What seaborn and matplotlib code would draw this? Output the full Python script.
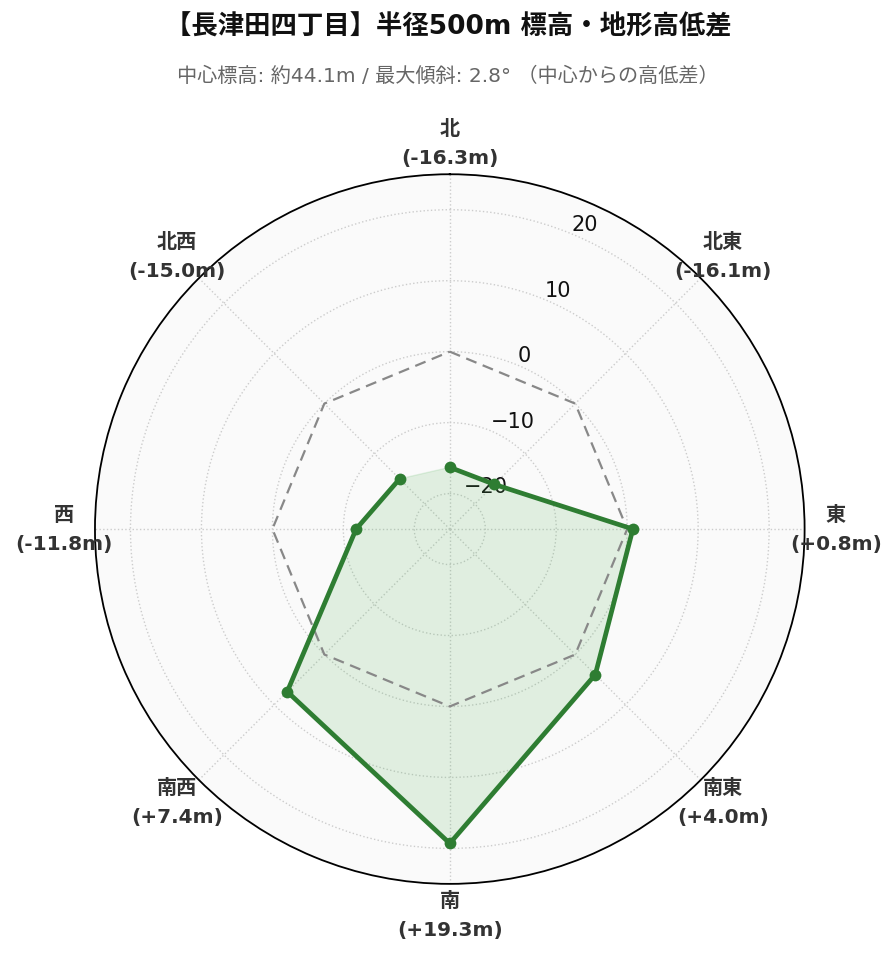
import numpy as np
import pandas as pd
import matplotlib
matplotlib.use("Agg")
import matplotlib.pyplot as plt
import seaborn as sns

sns.set_theme(style="white")
plt.rcParams['font.family'] = ['DejaVu Sans', 'Noto Sans CJK JP']
plt.rcParams['axes.unicode_minus'] = True

# データ
directions = ['北', '北東', '東', '南東', '南', '南西', '西', '北西']
diffs = [-16.3, -16.1, 0.8, 4.0, 19.3, 7.4, -11.8, -15.0]
title = '【長津田四丁目】半径500m 標高・地形高低差'
subtitle = '中心標高: 約44.1m / 最大傾斜: 2.8° （中心からの高低差）'

angles = np.deg2rad(np.arange(len(directions)) * 45.0)
df = pd.DataFrame({
    'theta': np.append(angles, angles[0]),
    'diff': diffs + [diffs[0]],
})

fig = plt.figure(figsize=(8.96, 9.62), dpi=100)
ax = fig.add_axes([0.106, 0.080, 0.792, 0.738], projection='polar')
ax.set_theta_zero_location('N')
ax.set_theta_direction(-1)
ax.set_facecolor('#fafafa')
ax.set_ylim(-25, 25)

# 基準線 (0m)
ax.plot(df['theta'], np.zeros(len(df)), color='#888888', lw=1.6, ls=(0, (5, 3)), zorder=3)

# 高低差
ax.fill(df['theta'], df['diff'], color='#4caf50', alpha=0.15, zorder=2)
sns.lineplot(data=df, x='theta', y='diff', sort=False, ax=ax, color='#2e7d32',
             lw=3.4, marker='o', markersize=8.5, markeredgewidth=0, zorder=4)

ax.set_xlabel('')
ax.set_ylabel('')
ax.set_xticks(angles)
ax.set_xticklabels([])
ax.set_yticks([-20, -10, 0, 10, 20])
ax.set_yticklabels(['−20', '−10', '0', '10', '20'], fontsize=15, color='#111111')
ax.set_rlabel_position(22.5)
ax.grid(True, color='#cccccc', ls=':', lw=1.0)
ax.spines['polar'].set_color('black')
ax.spines['polar'].set_linewidth(1.3)

for a, name, v in zip(angles, directions, diffs):
    ax.text(a, 29.4, f'{name}\n({v:+.1f}m)', ha='center', va='center',
            fontsize=14.5, fontweight='bold', color='#333333', linespacing=1.7,
            clip_on=False)

fig.text(0.5, 0.971, title, ha='center', va='center', fontsize=19,
         fontweight='bold', color='#111111')
fig.text(0.5, 0.921, subtitle, ha='center', va='center', fontsize=14.5,
         color='#666666')

fig.savefig('out.png', dpi=100)
